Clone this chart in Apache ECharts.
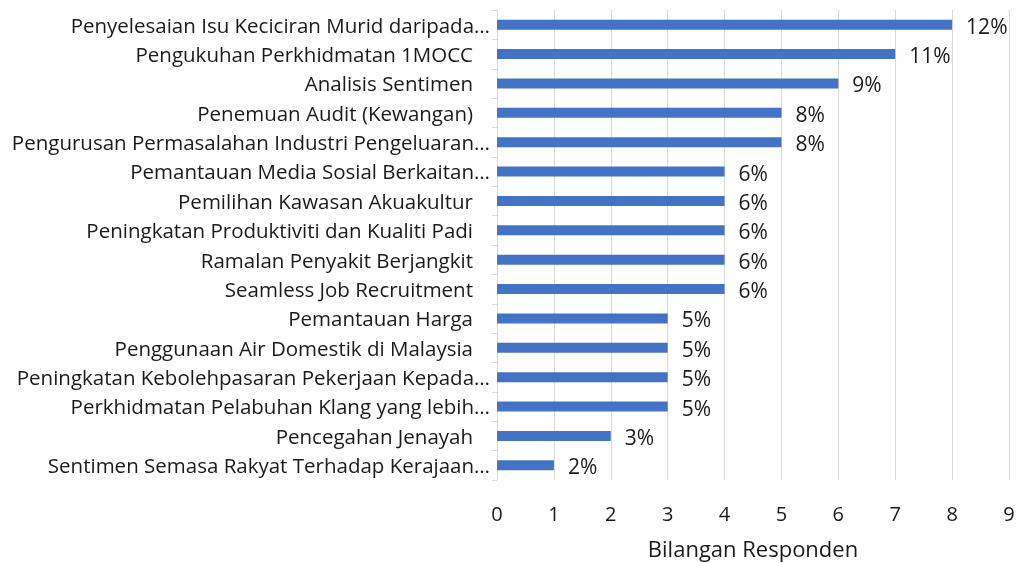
<!DOCTYPE html>
<html>
<head>
<meta charset="utf-8">
<script src="https://cdn.jsdelivr.net/npm/echarts@6/dist/echarts.min.js"></script>
<style>
  html, body { margin: 0; padding: 0; background: #fff; }
  #chart { width: 1019px; height: 563px; }
</style>
</head>
<body>
<div id="chart"></div>
<script>
var categories = [
  'Penyelesaian Isu Keciciran Murid daripada…',
  'Pengukuhan Perkhidmatan 1MOCC',
  'Analisis Sentimen',
  'Penemuan Audit (Kewangan)',
  'Pengurusan Permasalahan Industri Pengeluaran…',
  'Pemantauan Media Sosial Berkaitan…',
  'Pemilihan Kawasan Akuakultur',
  'Peningkatan Produktiviti dan Kualiti Padi',
  'Ramalan Penyakit Berjangkit',
  'Seamless Job Recruitment',
  'Pemantauan Harga',
  'Penggunaan Air Domestik di Malaysia',
  'Peningkatan Kebolehpasaran Pekerjaan Kepada…',
  'Perkhidmatan Pelabuhan Klang yang lebih…',
  'Pencegahan Jenayah',
  'Sentimen Semasa Rakyat Terhadap Kerajaan…'
];
var responden = [8, 7, 6, 5, 5, 4, 4, 4, 4, 4, 3, 3, 3, 3, 2, 1];
var percentLabels = ['12%', '11%', '9%', '8%', '8%', '6%', '6%', '6%', '6%', '6%', '5%', '5%', '5%', '5%', '3%', '2%'];
var xTicks = [0, 1, 2, 3, 4, 5, 6, 7, 8, 9];

var font = '"Open Sans", "Noto Sans", sans-serif';
var textColor = '#1a1a1a';

var option = {
  animation: false,
  grid: {
    top: 10,
    right: 10,
    bottom: 83,
    left: 497,
    containLabel: false,
    outerBoundsMode: 'none'
  },
  xAxis: {
    type: 'value',
    min: xTicks[0],
    max: xTicks[xTicks.length - 1],
    interval: 1,
    name: 'Bilangan Responden',
    nameLocation: 'middle',
    nameGap: 60,
    nameTextStyle: { fontFamily: font, fontSize: 22, color: textColor },
    axisLine: { show: false },
    axisTick: { show: false },
    axisLabel: { fontFamily: font, fontSize: 20, color: textColor, margin: 25 },
    splitLine: { lineStyle: { color: '#d9d9d9', width: 1 } }
  },
  yAxis: {
    type: 'category',
    data: categories,
    inverse: true,
    axisLine: { show: true, lineStyle: { color: '#d9d9d9', width: 1 } },
    axisTick: { show: true, length: 5, alignWithLabel: false, lineStyle: { color: '#d9d9d9' } },
    axisLabel: {
      fontFamily: font,
      fontSize: 20.5,
      color: textColor,
      margin: 7,
      // full names carry a trailing gap in the original, cut ones do not
      formatter: function (v) {
        return v.slice(-1) === '…' ? '{cut|' + v + '}' : '{pad|' + v + '}';
      },
      rich: {
        pad: { fontFamily: font, fontSize: 20.5, color: textColor, padding: [4, 17, 0, 0] },
        cut: { fontFamily: font, fontSize: 20.5, color: textColor, padding: [4, 0, 0, 0] }
      }
    }
  },
  series: [{
    type: 'bar',
    data: responden,
    barWidth: 10,
    itemStyle: { color: '#4472c4' },
    label: {
      show: true,
      position: 'right',
      distance: 14,
      offset: [0, 3],
      fontFamily: font,
      fontSize: 21,
      color: textColor,
      formatter: function (p) { return percentLabels[p.dataIndex]; }
    }
  }]
};

var chart = echarts.init(document.getElementById('chart'));
chart.setOption(option);
window.addEventListener('resize', function () {
  chart.resize();
});
</script>
</body>
</html>
